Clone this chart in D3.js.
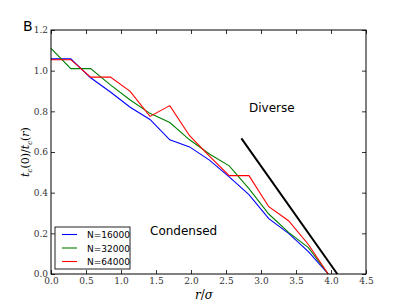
<!DOCTYPE html>
<html>
  <head>
    <meta charset="utf-8">
    <title>Condensed vs diverse</title>
    <script src="https://cdn.jsdelivr.net/npm/d3@7"></script>
    <style>
      body { margin: 0; background: #fff; }
      .tick text { font-family: 'DejaVu Serif', serif; font-size: 9px; fill: #333; }
      .tick line { stroke: #000; stroke-width: 0.8; }
      .domain { display: none; }
      .series { fill: none; stroke-width: 1.1; }
      .legend text { font-family: 'DejaVu Sans', sans-serif; font-size: 9px; fill: #000; }
      .region { font-family: 'DejaVu Sans', sans-serif; font-size: 12px; fill: #000; }
      .title { font-family: 'DejaVu Serif', serif; fill: #000; }
    </style>
  </head>

  <body>
    <svg id="chart" width="407" height="305"></svg>

    <script>
      // data
      radii = [0, 0.283, 0.566, 0.849, 1.131, 1.414, 1.697, 1.980, 2.263, 2.546, 2.828, 3.111, 3.394, 3.677, 3.960];
      n16000 = [1.058, 1.058, 0.965, 0.895, 0.82, 0.76, 0.66, 0.625, 0.56, 0.478, 0.39, 0.272, 0.2, 0.11, 0.0];
      n32000 = [1.11, 1.01, 1.01, 0.93, 0.856, 0.79, 0.745, 0.66, 0.59, 0.532, 0.42, 0.295, 0.205, 0.13, 0.0];
      n64000 = [1.054, 1.054, 0.968, 0.968, 0.898, 0.775, 0.828, 0.68, 0.58, 0.484, 0.484, 0.331, 0.262, 0.145, 0.0];
      boundaryX = [2.72, 4.09];
      boundaryY = [0.667, 0.0];
      seriesNames = ["N=16000", "N=32000", "N=64000"];
      seriesColours = ["#0000ff", "#008000", "#ff0000"];
      xTicks = [0, 0.5, 1, 1.5, 2, 2.5, 3, 3.5, 4, 4.5];
      yTicks = [0, 0.2, 0.4, 0.6, 0.8, 1.0, 1.2];

      chart = d3.select("#chart");
      margin = { top: 30, right: 41, bottom: 31, left: 51 };
      width = 407;
      height = 305;

      x = d3.scaleLinear()
        .domain([0, 4.5])
        .range([margin.left, width - margin.right]);
      y = d3.scaleLinear()
        .domain([0, 1.2])
        .range([height - margin.bottom, margin.top]);

      // axes, ticks pointing inwards on all four sides
      chart.append("g")
        .attr("transform", "translate(0, " + y(0) + ")")
        .call(d3.axisBottom(x).tickValues(xTicks).tickFormat(d3.format(".1f")).tickSize(-4).tickPadding(4));
      chart.append("g")
        .attr("transform", "translate(0, " + y(1.2) + ")")
        .call(d3.axisTop(x).tickValues(xTicks).tickFormat("").tickSize(-4));
      chart.append("g")
        .attr("transform", "translate(" + x(0) + ", 0)")
        .call(d3.axisLeft(y).tickValues(yTicks).tickFormat(d3.format(".1f")).tickSize(-4).tickPadding(3));
      chart.append("g")
        .attr("transform", "translate(" + x(4.5) + ", 0)")
        .call(d3.axisRight(y).tickValues(yTicks).tickFormat("").tickSize(-4));

      // series
      line = d3.line()
        .x(d => x(d[0]))
        .y(d => y(d[1]));

      [n16000, n32000, n64000].forEach((values, i) => {
        chart.append("path")
          .classed("series", true)
          .attr("stroke", seriesColours[i])
          .attr("d", line(radii.map((r, j) => [r, values[j]])));
      });

      chart.append("path")
        .attr("fill", "none")
        .attr("stroke", "#000")
        .attr("stroke-width", 2)
        .attr("d", line(boundaryX.map((r, j) => [r, boundaryY[j]])));

      // frame
      chart.append("rect")
        .attr("x", x(0))
        .attr("y", y(1.2))
        .attr("width", x(4.5) - x(0))
        .attr("height", y(0) - y(1.2))
        .attr("fill", "none")
        .attr("stroke", "#000")
        .attr("stroke-width", 1);

      // region labels
      chart.append("text")
        .classed("region", true)
        .attr("x", 249)
        .attr("y", 112)
        .text("Diverse");
      chart.append("text")
        .classed("region", true)
        .attr("x", 150)
        .attr("y", 235)
        .text("Condensed");

      // legend
      legend = chart.append("g")
        .classed("legend", true)
        .attr("transform", "translate(55, 227)");
      legend.append("rect")
        .attr("width", 75)
        .attr("height", 42)
        .attr("fill", "#fff")
        .attr("stroke", "#222")
        .attr("stroke-width", 1);
      seriesNames.forEach((name, i) => {
        legend.append("line")
          .attr("x1", 7)
          .attr("x2", 22)
          .attr("y1", 7.5 + i * 13.5)
          .attr("y2", 7.5 + i * 13.5)
          .attr("stroke", seriesColours[i])
          .attr("stroke-width", 1.1);
        legend.append("text")
          .attr("x", 32)
          .attr("y", 11 + i * 13.5)
          .text(name);
      });

      // panel letter and axis titles
      chart.append("text")
        .attr("x", 23)
        .attr("y", 31)
        .style("font-family", "'DejaVu Sans', sans-serif")
        .style("font-size", "14px")
        .text("B");

      xTitle = chart.append("text")
        .classed("title", true)
        .attr("x", 204)
        .attr("y", 299)
        .attr("text-anchor", "middle")
        .style("font-size", "12px");
      xTitle.append("tspan").style("font-style", "italic").text("r");
      xTitle.append("tspan").text("/");
      xTitle.append("tspan").style("font-style", "italic").text("σ");

      yTitle = chart.append("text")
        .classed("title", true)
        .attr("transform", "translate(29, " + ((y(0) + y(1.2)) / 2) + ") rotate(-90)")
        .attr("text-anchor", "middle")
        .style("font-size", "11px");
      yTitle.append("tspan").style("font-style", "italic").text("t");
      yTitle.append("tspan").attr("dy", 3).style("font-size", "7px").style("font-style", "italic").text("c");
      yTitle.append("tspan").attr("dy", -3).text("(0)/");
      yTitle.append("tspan").style("font-style", "italic").text("t");
      yTitle.append("tspan").attr("dy", 3).style("font-size", "7px").style("font-style", "italic").text("c");
      yTitle.append("tspan").attr("dy", -3).text("(");
      yTitle.append("tspan").style("font-style", "italic").text("r");
      yTitle.append("tspan").text(")");
    </script>
  </body>
</html>
